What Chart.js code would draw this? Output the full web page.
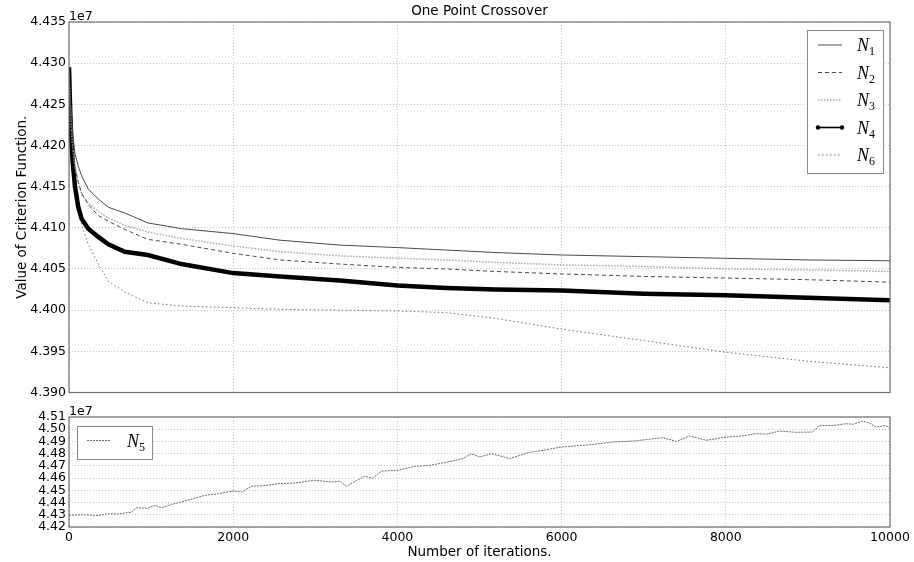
<!DOCTYPE html>
<html>
<head>
<meta charset="utf-8">
<title>One Point Crossover</title>
<script src="https://cdn.jsdelivr.net/npm/chart.js@4.4.0/dist/chart.umd.min.js"></script>
<style>
    html, body { margin: 0; padding: 0; background: #fff; }
    #wrap { position: relative; width: 914px; height: 562px; }
    #topBox { position: absolute; left: 0; top: 0; width: 914px; height: 403px; }
    #botBox { position: absolute; left: 0; top: 400px; width: 914px; height: 162px; }
</style>
</head>
<body>
<div id="wrap">
    <div id="topBox"><canvas id="topChart"></canvas></div>
    <div id="botBox"><canvas id="botChart"></canvas></div>
</div>
<script>
/* ---------- DATA (values in units of 1e7) ---------- */
const iters = [0, 15, 30, 45, 73, 113, 154, 235, 357, 480, 680, 960, 1370, 2000,
    2570, 3300, 4000, 4600, 5200, 6000, 7000, 8000, 9000, 10000];

const n1 = [4.4290, 4.4260, 4.4235, 4.4215, 4.4190, 4.4175, 4.4163, 4.4147, 4.4135, 4.4125,
    4.4118, 4.4106, 4.4099, 4.4093, 4.4085, 4.4079, 4.4076, 4.4073, 4.4070, 4.4067,
    4.4065, 4.4063, 4.4061, 4.4060];
const n2 = [4.4285, 4.4245, 4.4215, 4.4195, 4.4172, 4.4155, 4.4142, 4.4128, 4.4115, 4.4108,
    4.4098, 4.4086, 4.4080, 4.4069, 4.4061, 4.4056, 4.4052, 4.4050, 4.4047, 4.4044,
    4.4041, 4.4039, 4.4037, 4.4034];
const n3 = [4.4285, 4.4250, 4.4220, 4.4198, 4.4175, 4.4157, 4.4140, 4.4130, 4.4120, 4.4112,
    4.4103, 4.4095, 4.4087, 4.4078, 4.4071, 4.4066, 4.4063, 4.4061, 4.4058, 4.4055,
    4.4053, 4.4050, 4.4049, 4.4047];
const n4 = [4.4295, 4.4240, 4.4205, 4.4180, 4.4150, 4.4125, 4.4111, 4.4099, 4.4089, 4.4080,
    4.4071, 4.4067, 4.4056, 4.4045, 4.4041, 4.4036, 4.4030, 4.4027, 4.4025, 4.4024,
    4.4020, 4.4018, 4.4015, 4.4012];
const n6 = [4.4280, 4.4215, 4.4185, 4.4170, 4.4151, 4.4125, 4.4103, 4.4080, 4.4056, 4.4035,
    4.4022, 4.4009, 4.4005, 4.4003, 4.4001, 4.4000, 4.3999, 4.3997, 4.3990, 4.3977,
    4.3963, 4.3949, 4.3938, 4.3930];

const n5Iters = [0, 150, 250, 357, 480, 600, 680, 760, 823, 950, 1047, 1128, 1250, 1371,
    1500, 1655, 1800, 2000, 2101, 2223, 2400, 2548, 2750, 2994, 3197, 3300, 3380, 3500,
    3602, 3700, 3805, 4008, 4211, 4400, 4616, 4800, 4900, 5002, 5150, 5367, 5600, 5800,
    5996, 6300, 6500, 6625, 6900, 7233, 7400, 7558, 7761, 8004, 8200, 8369, 8500, 8653,
    8850, 9059, 9140, 9300, 9464, 9550, 9667, 9750, 9829, 9950, 10000];
const n5 = [4.4296, 4.4300, 4.4298, 4.4294, 4.4309, 4.4305, 4.4315, 4.4320, 4.4358, 4.4352,
    4.4377, 4.4358, 4.4385, 4.4405, 4.4430, 4.4459, 4.4470, 4.4495, 4.4486, 4.4533,
    4.4540, 4.4555, 4.4560, 4.4582, 4.4568, 4.4575, 4.4533, 4.4580, 4.4615, 4.4600,
    4.4658, 4.4664, 4.4696, 4.4705, 4.4732, 4.4760, 4.4800, 4.4773, 4.4800, 4.4759,
    4.4810, 4.4830, 4.4855, 4.4870, 4.4885, 4.4895, 4.4905, 4.4931, 4.4900, 4.4945,
    4.4909, 4.4936, 4.4945, 4.4964, 4.4960, 4.4985, 4.4975, 4.4977, 4.5032, 4.5030,
    4.5045, 4.5040, 4.5067, 4.5050, 4.5018, 4.5030, 4.5010];

const xTicks = [0, 2000, 4000, 6000, 8000, 10000];
const topYTicks = [4.390, 4.395, 4.400, 4.405, 4.410, 4.415, 4.420, 4.425, 4.430, 4.435];
const botYTicks = [4.42, 4.43, 4.44, 4.45, 4.46, 4.47, 4.48, 4.49, 4.50, 4.51];

const FONT = '"DejaVu Sans", sans-serif';
const GRID = { color: "#c4c4c4", lineWidth: 1, drawTicks: false };
const GRID_DASH = { display: false, dash: [1, 2] };

function toPoints(xs, ys) {
    return xs.map((x, i) => ({ x: x, y: ys[i] }));
}

/* ---------- frame, offset text, title, legend ---------- */
const panelDecor = {
    id: "panelDecor",
    afterDatasetsDraw(chart, args, opts) {
        const ctx = chart.ctx;
        const a = chart.chartArea;
        ctx.save();

        ctx.setLineDash([]);
        ctx.strokeStyle = "#6e6e6e";
        ctx.lineWidth = 1.2;
        ctx.strokeRect(a.left, a.top, a.right - a.left, a.bottom - a.top);

        ctx.fillStyle = "#000";
        ctx.font = "12.5px " + FONT;
        ctx.textAlign = "left";
        ctx.textBaseline = "bottom";
        ctx.fillText("1e7", a.left, a.top + 1);

        if (opts.title) {
            ctx.font = "13.5px " + FONT;
            ctx.textAlign = "center";
            ctx.textBaseline = "middle";
            ctx.fillText(opts.title, (a.left + a.right) / 2, opts.titleY);
        }

        const L = opts.legend;
        const bx = L.side === "right" ? a.right - L.dx - L.w : a.left + L.dx;
        const by = a.top + L.dy;
        ctx.fillStyle = "#fff";
        ctx.fillRect(bx, by, L.w, L.h);
        ctx.strokeStyle = "#8a8a8a";
        ctx.lineWidth = 1;
        ctx.strokeRect(bx + 0.5, by + 0.5, L.w, L.h);

        chart.data.datasets.forEach((ds, i) => {
            const y = by + L.first + i * L.row;
            ctx.beginPath();
            ctx.setLineDash(ds.borderDash || []);
            ctx.strokeStyle = ds.borderColor;
            ctx.lineWidth = Math.min(ds.borderWidth, 1.6);
            ctx.moveTo(bx + L.x0, y);
            ctx.lineTo(bx + L.x1, y);
            ctx.stroke();
            ctx.setLineDash([]);
            if (ds.legendMarker) {
                ctx.fillStyle = "#000";
                [bx + L.x0, bx + L.x1].forEach(px => {
                    ctx.beginPath();
                    ctx.arc(px, y, 2.2, 0, Math.PI * 2);
                    ctx.fill();
                });
            }
            const parts = ds.label.split("_");
            ctx.fillStyle = "#000";
            ctx.textAlign = "left";
            ctx.textBaseline = "alphabetic";
            ctx.font = 'italic 18px "Liberation Serif", serif';
            ctx.fillText(parts[0], bx + L.tx, y + 6);
            const w = ctx.measureText(parts[0]).width;
            ctx.font = '12px "Liberation Serif", serif';
            ctx.fillText(parts[1], bx + L.tx + w, y + 10);
        });

        ctx.restore();
    }
};

function xScale(showLabels) {
    return {
        type: "linear",
        min: 0,
        max: 10000,
        afterBuildTicks: s => { s.ticks = xTicks.map(v => ({ value: v })); },
        grid: Object.assign({}, GRID),
        border: GRID_DASH,
        ticks: {
            display: showLabels,
            color: "#000",
            font: { family: FONT, size: 12.5 },
            padding: 3,
            maxRotation: 0,
            autoSkip: false,
            callback: v => String(v)
        },
        title: {
            display: showLabels,
            text: "Number of iterations.",
            color: "#000",
            font: { family: FONT, size: 13.5 },
            padding: { top: 0, bottom: 1 }
        },
        afterFit: s => { s.height = showLabels ? 35 : 0; }
    };
}

/* ---------- TOP PANEL ---------- */
const topChart = new Chart(document.getElementById("topChart"), {
    type: "line",
    data: {
        datasets: [
            { label: "N_1", data: toPoints(iters, n1), borderColor: "#4a4a4a", borderWidth: 1 },
            { label: "N_2", data: toPoints(iters, n2), borderColor: "#4a4a4a", borderWidth: 1, borderDash: [4, 3] },
            { label: "N_3", data: toPoints(iters, n3), borderColor: "#aaaaaa", borderWidth: 1.5, borderDash: [1.5, 1.5] },
            { label: "N_4", data: toPoints(iters, n4), borderColor: "#000000", borderWidth: 4.5, legendMarker: true },
            { label: "N_6", data: toPoints(iters, n6), borderColor: "#6e6e6e", borderWidth: 1, borderDash: [1.5, 2.5] }
        ]
    },
    options: {
        responsive: true,
        maintainAspectRatio: false,
        animation: false,
        layout: { padding: { top: 22, right: 24, bottom: 5, left: 0 } },
        elements: { point: { radius: 0 }, line: { tension: 0, borderCapStyle: "butt" } },
        plugins: {
            legend: { display: false },
            tooltip: { enabled: false },
            panelDecor: {
                title: "One Point Crossover",
                titleY: 11,
                legend: { side: "right", dx: 7, dy: 8, w: 76, h: 143, first: 15, row: 27.5, x0: 11, x1: 35, tx: 50 }
            }
        },
        scales: {
            x: xScale(false),
            y: {
                type: "linear",
                min: 4.390,
                max: 4.435,
                afterBuildTicks: s => { s.ticks = topYTicks.map(v => ({ value: v })); },
                grid: Object.assign({}, GRID),
                border: GRID_DASH,
                ticks: {
                    color: "#000",
                    font: { family: FONT, size: 12.5 },
                    padding: 3,
                    autoSkip: false,
                    callback: v => Number(v).toFixed(3)
                },
                title: {
                    display: true,
                    text: "Value of Criterion Function.",
                    color: "#000",
                    font: { family: FONT, size: 13.5 },
                    padding: { top: 14 }
                },
                afterFit: s => { s.width = 69; }
            }
        }
    },
    plugins: [panelDecor]
});

/* ---------- BOTTOM PANEL ---------- */
const botChart = new Chart(document.getElementById("botChart"), {
    type: "line",
    data: {
        datasets: [
            { label: "N_5", data: toPoints(n5Iters, n5), borderColor: "#6a6a6a", borderWidth: 1, borderDash: [2, 1] }
        ]
    },
    options: {
        responsive: true,
        maintainAspectRatio: false,
        animation: false,
        layout: { padding: { top: 17, right: 24, bottom: 0, left: 0 } },
        elements: { point: { radius: 0 }, line: { tension: 0 } },
        plugins: {
            legend: { display: false },
            tooltip: { enabled: false },
            panelDecor: {
                legend: { side: "left", dx: 8, dy: 9, w: 75, h: 33, first: 14.5, row: 0, x0: 10, x1: 33, tx: 50 }
            }
        },
        scales: {
            x: xScale(true),
            y: {
                type: "linear",
                min: 4.42,
                max: 4.51,
                afterBuildTicks: s => { s.ticks = botYTicks.map(v => ({ value: v })); },
                grid: Object.assign({}, GRID),
                border: GRID_DASH,
                ticks: {
                    color: "#000",
                    font: { family: FONT, size: 12.5, lineHeight: 1 },
                    padding: 3,
                    autoSkip: false,
                    callback: v => Number(v).toFixed(2)
                },
                afterFit: s => { s.width = 69; }
            }
        }
    },
    plugins: [panelDecor]
});
</script>
</body>
</html>
